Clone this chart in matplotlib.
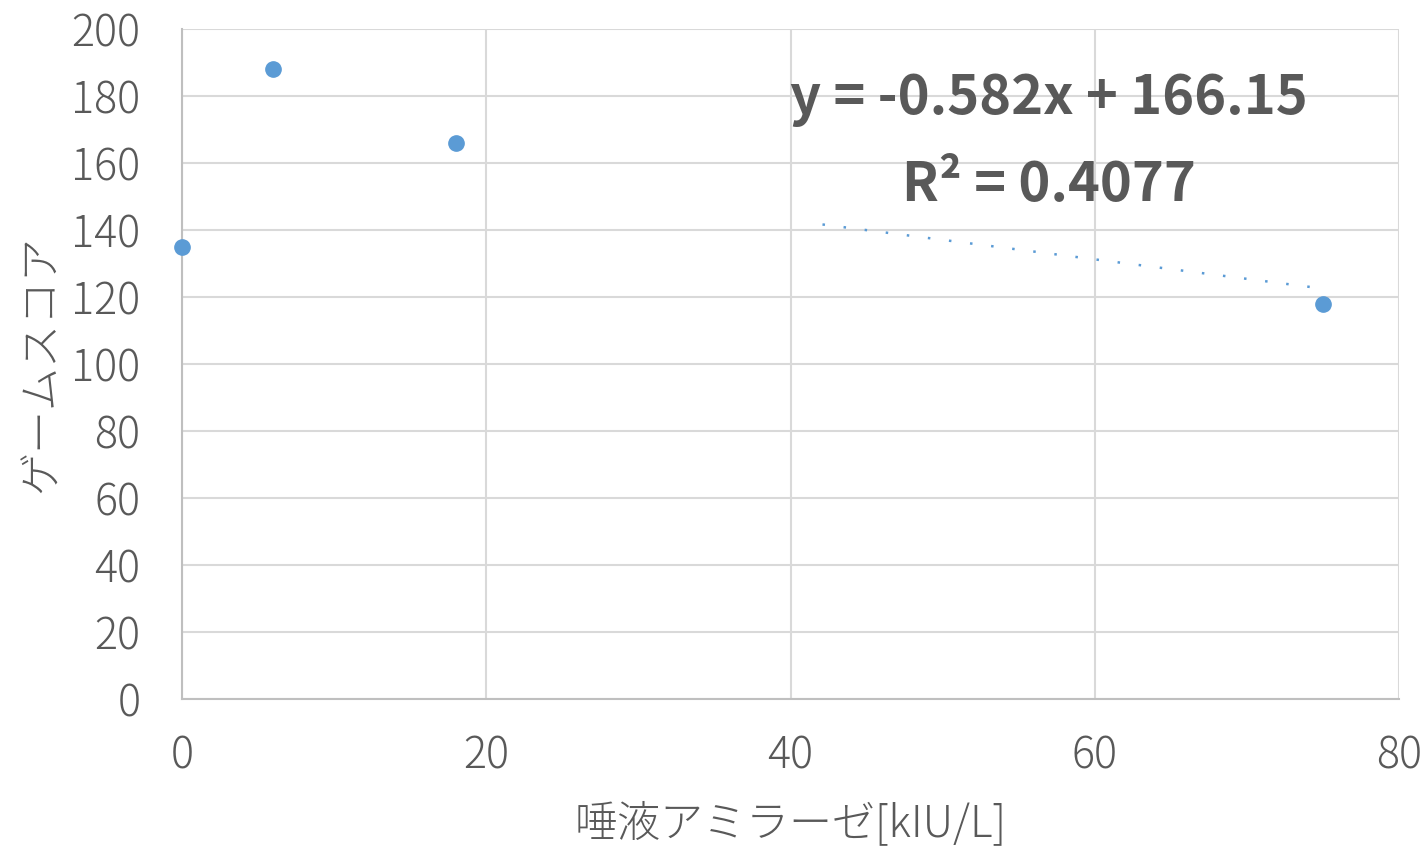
"""Scatter of salivary amylase vs game score with a linear trendline."""

import matplotlib

matplotlib.use("Agg")
import matplotlib.pyplot as plt
import numpy as np

plt.rcParams["font.family"] = ["Noto Sans CJK JP", "DejaVu Sans"]

amylase = [0, 6, 18, 75]
score = [135, 188, 166, 118]
x_ticks = [0, 20, 40, 60, 80]
y_ticks = [0, 20, 40, 60, 80, 100, 120, 140, 160, 180, 200]
# visible part of the dotted trendline
trend_span = (42.1, 74.6)

TEXT = "#595959"
BLUE = "#5B9BD5"

slope, intercept = np.polyfit(amylase, score, 1)
r2 = np.corrcoef(amylase, score)[0, 1] ** 2

fig = plt.figure(figsize=(14.25, 8.46), dpi=100)
ax = fig.add_axes([0.1277, 0.1738, 0.9818 - 0.1277, 0.9657 - 0.1738])

trend_x = np.array(trend_span)
ax.plot(trend_x, slope * trend_x + intercept, color=BLUE, linewidth=1.8,
        linestyle=(0, (1, 7.5)), zorder=2)
ax.plot(amylase, score, "o", color=BLUE, markersize=11, zorder=3,
        clip_on=False)

ax.set_xlim(0, 80)
ax.set_ylim(0, 200)
ax.set_xticks(x_ticks)
ax.set_yticks(y_ticks)
ax.grid(color="#d9d9d9", linewidth=1.5)
ax.set_axisbelow(True)
for side in ("top", "right"):
    ax.spines[side].set_visible(False)
for side in ("left", "bottom"):
    ax.spines[side].set_color("#bfbfbf")
    ax.spines[side].set_linewidth(1.5)
ax.tick_params(length=0, labelsize=31, labelcolor=TEXT)
ax.tick_params(axis="x", pad=25)
ax.tick_params(axis="y", pad=30)
for label in ax.get_xticklabels() + ax.get_yticklabels():
    label.set_fontweight("light")

ax.set_xlabel("唾液アミラーゼ[kIU/L]", fontsize=31, color=TEXT, labelpad=16,
              fontweight="light")
ax.set_ylabel("ゲームスコア", fontsize=31, color=TEXT, labelpad=5,
              fontweight="light")

ax.text(0.712, 0.895, f"y = {slope:.3f}x + {intercept:.2f}",
        transform=ax.transAxes, ha="center", va="center", fontsize=39,
        fontweight="bold", color=TEXT)
ax.text(0.712, 0.767, f"R² = {r2:.4f}", transform=ax.transAxes,
        ha="center", va="center", fontsize=39, fontweight="bold", color=TEXT)

fig.savefig("out.png", dpi=100)
